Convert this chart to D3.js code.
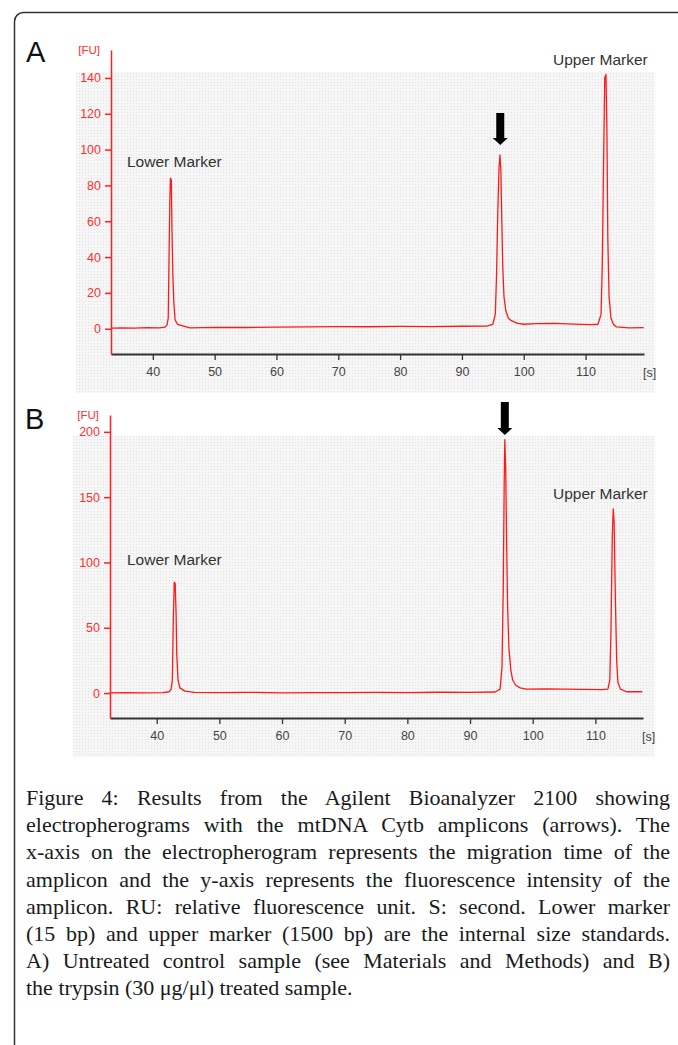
<!DOCTYPE html>
<html>
<head>
<meta charset="utf-8">
<script src="https://cdn.jsdelivr.net/npm/d3@7"></script>
<style>
  body { margin: 0; background: #fff; }
  svg { display: block; }
</style>
</head>
<body>
<div id="fig"></div>
<script>
// ---- data ----
// panel A : untreated control, [time s, FU]
var traceA = [
  [33.3, 0.3], [35, 0.5], [37, 0.3], [39, 0.6], [41, 0.5], [42, 0.9], [42.3, 2],
  [42.5, 6], [42.6, 33], [42.75, 70], [42.85, 84], [43.0, 83], [43.1, 55], [43.25, 30],
  [43.4, 15], [43.6, 5], [44, 2.5], [45, 1.5], [46, 0.5], [50, 0.8], [55, 0.7],
  [60, 0.9], [65, 1], [70, 1.2], [75, 1.1], [80, 1.3], [85, 1.2], [90, 1.4], [94, 1.5],
  [95, 2.5], [95.4, 8], [95.6, 30], [95.8, 65], [96.0, 90], [96.15, 97], [96.3, 88],
  [96.45, 60], [96.6, 35], [96.8, 18], [97.1, 10], [97.5, 6], [98, 4.5], [99, 3],
  [100, 2.5], [102, 2.8], [105, 3], [108, 2.6], [111, 2.3], [112, 2.5], [112.5, 8],
  [112.7, 35], [112.9, 90], [113.1, 140], [113.3, 142], [113.45, 110], [113.6, 50],
  [113.8, 18], [114.1, 6], [114.5, 2.5], [115, 1], [117, 0.5], [119.4, 0.6]
];
// panel B : trypsin treated
var traceB = [
  [32.6, 0.2], [35, 0.3], [38, 0.1], [41, 0.4], [42, 1], [42.3, 3], [42.5, 10],
  [42.65, 55], [42.8, 85], [42.95, 84], [43.1, 60], [43.2, 30], [43.4, 10], [43.7, 4],
  [44.5, 1.5], [46, 0.5], [50, 0.3], [55, 0.5], [60, 0.2], [65, 0.4], [70, 0.3],
  [75, 0.5], [80, 0.4], [85, 0.6], [90, 0.5], [94, 0.8], [94.8, 3], [95.1, 20],
  [95.3, 80], [95.45, 160], [95.55, 194], [95.7, 170], [95.85, 110], [96, 65],
  [96.2, 35], [96.5, 18], [96.8, 10], [97.3, 6], [98, 4], [99, 3], [102, 3.2],
  [105, 3], [108, 2.8], [111, 2.6], [112, 3], [112.3, 10], [112.5, 50], [112.7, 120],
  [112.85, 141], [113.0, 130], [113.2, 70], [113.4, 25], [113.6, 8], [114, 3],
  [115, 1], [117.5, 1]
];

var xTicks = [40, 50, 60, 70, 80, 90, 100, 110];
var yTicksA = [0, 20, 40, 60, 80, 100, 120, 140];
var yTicksB = [0, 50, 100, 150, 200];

// arrow positions (time of amplicon peak) and marker labels
var arrowA = 96.2, arrowB = 95.55;
var markerLabels = ["Lower Marker", "Upper Marker"];

var caption = [
  "Figure 4: Results from the Agilent Bioanalyzer 2100 showing",
  "electropherograms with the mtDNA Cytb amplicons (arrows). The",
  "x-axis on the electropherogram represents the migration time of the",
  "amplicon and the y-axis represents the fluorescence intensity of the",
  "amplicon. RU: relative fluorescence unit. S: second. Lower marker",
  "(15 bp) and upper marker (1500 bp) are the internal size standards.",
  "A) Untreated control sample (see Materials and Methods) and B)",
  "the trypsin (30 \u03bcg/\u03bcl) treated sample."
];

var W = 678, H = 1045;
var sans = "Liberation Sans, Arial, sans-serif";
var svg = d3.select("#fig").append("svg")
    .attr("width", W)
    .attr("height", H);

// dotted background like the instrument screenshot
var defs = svg.append("defs");
var pat = defs.append("pattern")
    .attr("id", "dots")
    .attr("width", 3).attr("height", 3)
    .attr("patternUnits", "userSpaceOnUse");
pat.append("rect").attr("width", 3).attr("height", 3).attr("fill", "#f6f6f6");
pat.append("rect").attr("x", 1).attr("y", 1).attr("width", 1).attr("height", 1).attr("fill", "#e0e0e0");

// outer frame (runs off the right and bottom edges)
svg.append("rect")
    .attr("x", 14.5).attr("y", 12.5)
    .attr("width", 720).attr("height", 1100)
    .attr("rx", 9)
    .attr("fill", "none")
    .attr("stroke", "#333")
    .attr("stroke-width", 1.5);

function drawPanel(p) {
  var g = svg.append("g");

  g.append("rect")
    .attr("x", p.bg[0]).attr("y", p.bg[1])
    .attr("width", p.bg[2]).attr("height", p.bg[3])
    .attr("fill", "url(#dots)");

  var x = d3.scaleLinear().domain(p.xDom).range([p.left, p.right]);
  var y = d3.scaleLinear().domain(p.yDom).range([p.bottom, p.top]);

  // x axis
  var xa = g.append("g")
    .attr("transform", "translate(0," + p.bottom + ")")
    .call(d3.axisBottom(x).tickValues(xTicks).tickSize(6).tickSizeOuter(0));
  xa.select(".domain").attr("stroke", "#333").attr("stroke-width", 2);
  xa.selectAll(".tick line").attr("stroke", "#333").attr("stroke-width", 1.3);
  xa.selectAll(".tick text")
    .attr("fill", "#444")
    .attr("dy", "1.0em")
    .style("font-family", sans)
    .style("font-size", "12.5px");

  g.append("text")
    .attr("x", p.right - 1).attr("y", p.bottom + 23)
    .attr("fill", "#444")
    .style("font-family", sans)
    .style("font-size", "12.5px")
    .text("[s]");

  // y axis in red
  var ya = g.append("g")
    .attr("transform", "translate(" + p.left + ",0)")
    .call(d3.axisLeft(y).tickValues(p.yTicks).tickSize(6).tickSizeOuter(0));
  ya.select(".domain").attr("stroke", "#ff2020").attr("stroke-width", 1.5);
  ya.selectAll(".tick line").attr("stroke", "#ff2020").attr("stroke-width", 1.5);
  ya.selectAll(".tick text")
    .attr("fill", "#ff3030")
    .attr("x", -10)
    .style("font-family", sans)
    .style("font-size", "12.5px");

  g.append("text")
    .attr("x", p.left - 11).attr("y", p.top + 4)
    .attr("text-anchor", "end")
    .attr("fill", "#ff3030")
    .style("font-family", sans)
    .style("font-size", "11.5px")
    .text("[FU]");

  // trace
  g.append("path")
    .datum(p.data)
    .attr("fill", "none")
    .attr("stroke", "#ff1a1a")
    .attr("stroke-width", 1.3)
    .attr("stroke-linejoin", "round")
    .attr("d", d3.line()
      .x(function(d) { return x(d[0]); })
      .y(function(d) { return y(d[1]); }));

  // panel letter
  g.append("text")
    .attr("x", p.letterPos[0]).attr("y", p.letterPos[1])
    .style("font-family", sans)
    .style("font-size", "29px")
    .attr("fill", "#111")
    .text(p.letter);

  // marker labels
  p.labels.forEach(function(l, i) {
    g.append("text")
      .attr("x", l[0]).attr("y", l[1])
      .attr("fill", "#333")
      .style("font-family", sans)
      .style("font-size", "15.5px")
      .text(markerLabels[i]);
  });

  // black arrow pointing at the amplicon
  var ax = x(p.arrow), at = p.arrowY[0], ab = p.arrowY[1];
  g.append("path")
    .attr("d", "M" + (ax - 4) + "," + at + "H" + (ax + 4) + "V" + (ab - 7) +
               "H" + (ax + 7.5) + "L" + ax + "," + ab + "L" + (ax - 7.5) + "," + (ab - 7) +
               "H" + (ax - 4) + "Z")
    .attr("fill", "#000");
}

drawPanel({
  letter: "A", letterPos: [26, 62],
  bg: [76, 72, 579, 321],
  data: traceA,
  xDom: [33.24, 119.45], left: 111, right: 644,
  yDom: [-14.1, 155.6], bottom: 354, top: 50,
  yTicks: yTicksA,
  labels: [[127, 167], [553, 65]],
  arrow: arrowA, arrowY: [113, 145]
});

drawPanel({
  letter: "B", letterPos: [25, 429],
  bg: [73, 436, 582, 321],
  data: traceB,
  xDom: [32.55, 117.6], left: 110, right: 643,
  yDom: [-19.1, 212.9], bottom: 718, top: 415,
  yTicks: yTicksB,
  labels: [[127, 565], [553, 499]],
  arrow: arrowB, arrowY: [402, 435]
});

// caption, justified like the journal page
var capLeft = 26, capRight = 670;
var cap = svg.append("g")
    .style("font-family", "Liberation Serif, Times New Roman, serif")
    .style("font-size", "22px")
    .attr("fill", "#1a1a1a");

caption.forEach(function(line, i) {
  var t = cap.append("text")
    .attr("x", capLeft)
    .attr("y", 805 + i * 27.2)
    .text(line);
  if (i < caption.length - 1) {
    var natural = t.node().getComputedTextLength();
    var spaces = line.split(" ").length - 1;
    t.attr("word-spacing", ((capRight - capLeft) - natural) / spaces);
  }
});
</script>
</body>
</html>
